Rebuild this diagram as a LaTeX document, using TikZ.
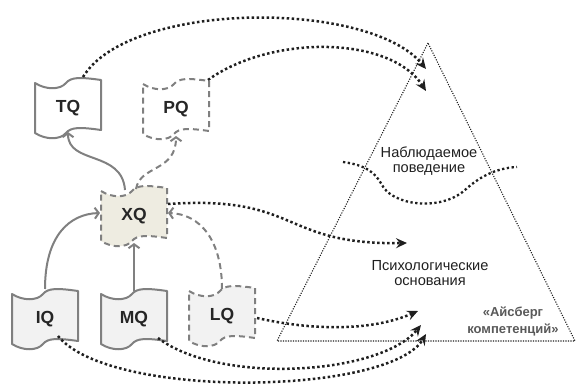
\documentclass[tikz,border=0pt]{standalone}
\usepackage{fontspec}
\setmainfont{Liberation Sans}
\usetikzlibrary{arrows.meta}
\definecolor{qgray}{HTML}{808080}
\definecolor{qtext}{HTML}{262626}
\definecolor{qfill}{HTML}{F2F2F2}
\definecolor{xfill}{HTML}{EEECE1}
\definecolor{ink}{HTML}{1F1F1F}
\definecolor{tagtext}{HTML}{595959}

% wavy "tape" outline centred at (#1,#2), drawn with style #3
\newcommand\qshape[3]{%
  \begin{scope}[shift={(#1,#2)}]
    \draw[#3] (-33,-24) .. controls (-22,-17) and (-8,-17) .. (-2,-24)
      .. controls (3,-30) and (12,-30) .. (33,-27) -- (33,23)
      .. controls (12,20) and (3,20) .. (-2,26)
      .. controls (-8,33) and (-22,33) .. (-33,26) -- cycle;
  \end{scope}}

\tikzset{
  qline/.style={draw=qgray, line width=2pt, line join=round},
  qsolid/.style={qline},
  qdash/.style={qline, dash pattern=on 6pt off 4pt},
  qlabel/.style={font=\bfseries\fontsize{17.5}{20}\selectfont, text=qtext,
    minimum width=66pt, minimum height=50pt, inner sep=0pt},
  garrow/.style={draw=qgray, line width=2pt, -{Straight Barb[length=4pt,width=11pt]}},
  darrow/.style={draw=ink, line width=2.5pt, dash pattern=on 2.5pt off 2.5pt,
    -{Stealth[length=11pt,width=10pt,inset=4pt]}},
  tritext/.style={font=\fontsize{14.6}{15.5}\selectfont, text=ink, align=center, inner sep=0pt},
  tagstyle/.style={font=\bfseries\fontsize{13}{17}\selectfont, text=tagtext, align=center, inner sep=0pt}
}

\begin{document}
\begin{tikzpicture}[x=1pt, y=-1pt]
\useasboundingbox (0,0) rectangle (577,390);

% the iceberg triangle
\coordinate (apex) at (428,43);
\coordinate (bl) at (277,341);
\coordinate (br) at (575,341);
\draw[draw=ink, line width=1.1pt, dash pattern=on 1.1pt off 1.4pt] (apex) -- (bl) -- (br) -- cycle;

% water line
\draw[draw=ink, line width=2.3pt, dash pattern=on 2.3pt off 2.5pt]
  (343,162) .. controls (365,165) and (375,172) .. (382,185)
  .. controls (392,205) and (440,212) .. (465,190)
  .. controls (478,178) and (495,168) .. (517,167);

\node[tritext] (obs) at (429,161) {Наблюдаемое\\поведение};
\node[tritext] (psy) at (430,273) {Психологические\\основания};
\node[tagstyle] (tag) at (513,321) {«Айсберг\\компетенций»};

% competence boxes
\qshape{68}{107}{qsolid, fill=white}
\node[qlabel] (TQ) at (68,108) {TQ};
\qshape{176}{108}{qdash, fill=white}
\node[qlabel] (PQ) at (176,109) {PQ};
\qshape{134}{215}{qdash, fill=xfill}
\node[qlabel] (XQ) at (134,216) {XQ};
\qshape{45}{318}{qsolid, fill=qfill}
\node[qlabel] (IQ) at (45,319) {IQ};
\qshape{134}{318}{qsolid, fill=qfill}
\node[qlabel] (MQ) at (134,319) {MQ};
\qshape{222}{315}{qdash, fill=qfill}
\node[qlabel] (LQ) at (222,316) {LQ};

% targets inside the triangle
\coordinate (t1) at (426,69);
\coordinate (t2) at (426,91);
\coordinate (t3) at (407,243);
\coordinate (t4) at (418,311);
\coordinate (t5) at (421,325);
\coordinate (t6) at (426,334);

% grey links between boxes
\draw[garrow] ([shift={(-9,-26)}]XQ.center) .. controls (122,150) and (68,165) .. ([shift={(0,24)}]TQ.center);
\draw[garrow, dash pattern=on 6pt off 4pt] ([shift={(2,-27)}]XQ.center) .. controls (140,165) and (176,172) .. ([shift={(0,27)}]PQ.center);
\draw[garrow] ([shift={(0,-30)}]IQ.center) .. controls (45,235) and (70,214) .. ([shift={(-34,-3)}]XQ.center);
\draw[garrow] ([shift={(0,-28)}]MQ.center) -- ([shift={(0,27)}]XQ.center);
\draw[garrow, dash pattern=on 6pt off 4pt] ([shift={(0,-27)}]LQ.center) .. controls (222,240) and (200,214) .. ([shift={(34,-3)}]XQ.center);

% dotted links into the iceberg
\draw[darrow] ([shift={(15,-31)}]TQ.center) .. controls (130,0) and (370,0) .. (t1);
\draw[darrow] ([shift={(32,-29)}]PQ.center) .. controls (270,35) and (390,35) .. (t2);
\draw[darrow] ([shift={(34,-12)}]XQ.center) .. controls (300,195) and (280,245) .. (t3);
\draw[darrow] ([shift={(35,2)}]LQ.center) .. controls (310,330) and (370,332) .. (t4);
\draw[darrow] ([shift={(24,19)}]MQ.center) .. controls (220,385) and (380,375) .. (t5);
\draw[darrow] ([shift={(13,17)}]IQ.center) .. controls (110,400) and (390,395) .. (t6);
\end{tikzpicture}
\end{document}
